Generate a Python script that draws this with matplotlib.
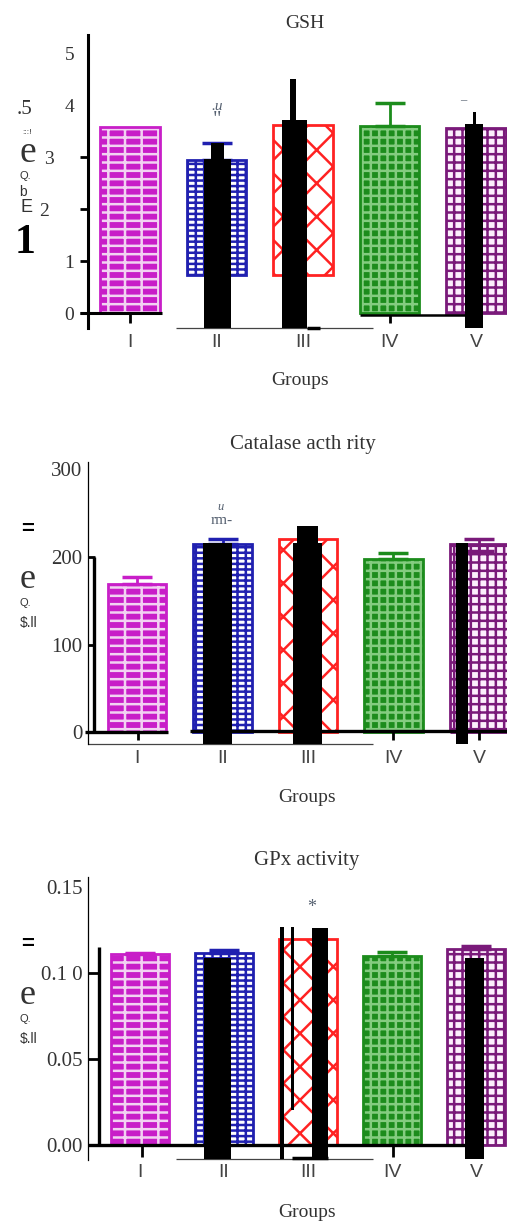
import numpy as np
import matplotlib
matplotlib.use("Agg")
import matplotlib.pyplot as plt

plt.rcParams["font.family"] = ["Liberation Serif", "DejaVu Serif"]
plt.rcParams["hatch.linewidth"] = 1.8

W, H = 507, 1225

groups = ["I", "II", "III", "IV", "V"]

# GSH
gsh_mean = [3.58, 2.94, 3.62, 3.60, 3.56]
gsh_base = [0.0, 0.73, 0.73, 0.0, 0.0]
gsh_err_hi = [0.0, 0.33, 0.0, 0.44, 0.0]
gsh_err_lo = [0.0, 0.0, 0.0, 0.0, 0.0]
gsh_blk_top = [2.96, 3.27, 3.71, 4.50, 3.63, 3.87]
gsh_blk_bot = [-0.29, 2.96, -0.29, 3.71, -0.29, 3.63]

# Catalase activity
cat_mean = [169, 215, 221, 198, 215]
cat_base = [0, 0, 0, 0, 0]
cat_err_hi = [8, 6, 0, 7, 6]
cat_err_lo = [0, 0, 0, 0, 8]
cat_blk_top = [216, 216, 235, 216]
cat_blk_bot = [-13.7, -13.7, -13.7, -13.7]

# GPx activity
gpx_mean = [0.111, 0.1116, 0.120, 0.110, 0.114]
gpx_base = [0, 0, 0, 0, 0]
gpx_err_hi = [0.0004, 0.0015, 0.0, 0.0023, 0.0015]
gpx_err_lo = [0, 0, 0, 0, 0]
gpx_blk_top = [0.1087, 0.1267, 0.1267, 0.126, 0.1087]
gpx_blk_bot = [-0.0081, -0.0081, 0.0203, -0.0081, -0.0081]

MAG = "#c81ec8"
BLU = "#2020b0"
RED = "#ff2222"
GRN = "#1c8c1c"
PUR = "#7a1a7a"
styles = [
    dict(face=MAG, hcol="#f2d2f2", hatch="--|", edge=MAG),
    dict(face="white", hcol=BLU, hatch="---||", edge=BLU),
    dict(face="white", hcol=RED, hatch="x", edge=RED),
    dict(face=GRN, hcol="#84cc80", hatch="++", edge=GRN),
    dict(face="#fdf0fd", hcol=PUR, hatch="++", edge=PUR),
]
INK = "#333333"
NOTE = "#556070"

fig = plt.figure(figsize=(W / 100, H / 100), dpi=100)


def panel(top, bottom, x0, unit, y0, ppu):
    left = 88
    ax = fig.add_axes([left / W, 1 - bottom / H, (W - left) / W, (bottom - top) / H])
    ax.set_xlim((left - x0) / unit, (W - x0) / unit)
    ax.set_ylim((y0 - bottom) / ppu, (y0 - top) / ppu)
    for s in ("top", "right", "bottom"):
        ax.spines[s].set_visible(False)
    ax.patch.set_alpha(0)
    return ax


def draw_bars(ax, means, bases, lo, hi):
    for i, st in enumerate(styles):
        h = means[i] - bases[i]
        ax.bar(i, h, bottom=bases[i], width=0.69, color=st["face"],
               edgecolor=st["hcol"], hatch=st["hatch"], linewidth=0, zorder=2)
        ax.bar(i, h, bottom=bases[i], width=0.69, fill=False,
               edgecolor=st["edge"], linewidth=2.0, zorder=3)
        if hi[i] > 0 or lo[i] > 0:
            ax.errorbar(i, means[i], yerr=[[lo[i]], [hi[i]]], fmt="none",
                        ecolor=st["edge"], elinewidth=2, capsize=11, capthick=2.5,
                        zorder=4)


def blocks(ax, xs, ws, tops, bots):
    for x, w, t, b in zip(xs, ws, tops, bots):
        ax.bar(x, t - b, bottom=b, width=w, color="black", linewidth=0,
               zorder=6, clip_on=False)


def xaxis_labels(ax, pad):
    ax.set_xticks(range(len(groups)), groups, family="Liberation Sans",
                  fontsize=14, color="#444444")
    ax.tick_params(axis="x", length=0, pad=pad)


def ftxt(x, y, s, **kw):
    fig.text(x / W, 1 - y / H, s, ha="center", va="center", **kw)


# ---------- GSH ----------
ax1 = panel(35, 328, 130, 86.5, 313, 52)
draw_bars(ax1, gsh_mean, gsh_base, gsh_err_lo, gsh_err_hi)
blocks(ax1, [1.012, 1.012, 1.902, 1.884, 3.977, 3.983],
       [0.312, 0.15, 0.289, 0.07, 0.208, 0.035], gsh_blk_top, gsh_blk_bot)
ax1.spines["left"].set_linewidth(2.2)
ax1.set_yticks(range(6), ["0", "1", "2     ", "3    ", "4", "5"])
ax1.tick_params(axis="y", direction="out", length=6, width=2, pad=4,
                labelsize=14, labelcolor=INK)
for t in ax1.yaxis.get_major_ticks()[4:]:
    t.tick1line.set_visible(False)
xaxis_labels(ax1, 4)
lk = dict(color="black", clip_on=False, zorder=5)
ax1.hlines(0, -0.578, 0.37, lw=2.2, **lk)
ax1.hlines(-0.29, 0.532, 2.81, lw=0.9, color="#444444", clip_on=False)
ax1.hlines(-0.04, 2.66, 3.9, lw=1.8, **lk)
ax1.hlines(-0.29, 2.046, 2.197, lw=2.5, **lk)
ax1.vlines(0.0, -0.19, 0, lw=2, **lk)
ax1.vlines(3.006, -0.19, -0.04, lw=2, **lk)
ax1.set_title("GSH", fontsize=14, color=INK, x=0.518, pad=5)
ax1.set_xlabel("Groups", fontsize=14, color=INK)
ax1.xaxis.label.set_verticalalignment("center")
ax1.xaxis.set_label_coords(0.506, -0.1775)
ax1.text(1.006, 3.97, ".u", fontsize=11, style="italic", color=NOTE, ha="center", va="center")
ax1.text(1.006, 3.70, '"', fontsize=15, color=NOTE, ha="center", va="center")
ax1.text(3.85, 4.1, "–", fontsize=9, color=NOTE, ha="center", va="center")

ftxt(24, 110, ".5", fontsize=15, color=INK)
ftxt(27, 133, ":::!", fontsize=6, color=INK, family="Liberation Sans")
ftxt(28, 153, "e", fontsize=27, color=INK)
ftxt(25, 176, "Q.", fontsize=8, color=INK, family="Liberation Sans")
ftxt(23, 192, "b", fontsize=10, color=INK, family="Liberation Sans")
ftxt(27, 207, "E", fontsize=13, color=INK, family="Liberation Sans")
ftxt(25, 243, "1", fontsize=30, color="black", weight="bold")

# ---------- Catalase ----------
ax2 = panel(462, 744, 137, 85.5, 732, 0.875)
draw_bars(ax2, cat_mean, cat_base, cat_err_lo, cat_err_hi)
blocks(ax2, [0.942, 1.994, 1.994, 3.80], [0.339, 0.339, 0.246, 0.14],
       cat_blk_top, cat_blk_bot)
ax2.spines["left"].set_linewidth(0.9)
ax2.set_yticks([0, 100, 200, 300])
ax2.tick_params(axis="y", direction="in", length=5, width=2, pad=4,
                labelsize=15, labelcolor=INK)
ax2.yaxis.get_major_ticks()[3].tick1line.set_visible(False)
xaxis_labels(ax2, 4)
ax2.vlines(-0.503, -1, 200, lw=2.4, **lk)
ax2.hlines(0, -0.608, 0.363, lw=2.4, **lk)
ax2.hlines(1, 0.62, 4.33, lw=2.4, **lk)
ax2.hlines(-13.7, -0.573, 2.76, lw=0.9, color="#444444", clip_on=False)
ax2.vlines([0.012, 2.99, 4.0], -9.1, 0, lw=2, **lk)
ax2.set_title("Catalase acth rity", fontsize=15, color=INK, x=0.513, pad=9)
ax2.set_xlabel("Groups", fontsize=14, color=INK)
ax2.xaxis.label.set_verticalalignment("center")
ax2.xaxis.set_label_coords(0.523, -0.188)
ax2.text(0.971, 257, "u", fontsize=9, style="italic", color=NOTE, ha="center", va="center")
ax2.text(0.994, 242, "rm-", fontsize=11, color=NOTE, ha="center", va="center")

ftxt(28, 529, "=", fontsize=16, color="black", weight="bold", family="Liberation Sans")
ftxt(28, 579, "e", fontsize=26, color=INK)
ftxt(25, 603, "Q.", fontsize=8, color=INK, family="Liberation Sans")
ftxt(29, 623, "$.ll", fontsize=10, color=INK, family="Liberation Sans")

# ---------- GPx ----------
ax3 = panel(877, 1160, 140, 84, 1145, 1720)
draw_bars(ax3, gpx_mean, gpx_base, gpx_err_lo, gpx_err_hi)
blocks(ax3, [0.923, 1.690, 1.821, 2.143, 3.98], [0.321, 0.048, 0.036, 0.19, 0.226],
       gpx_blk_top, gpx_blk_bot)
ax3.spines["left"].set_linewidth(0.9)
ax3.set_yticks([0, 0.05, 0.10, 0.15], ["0.00", "0.05", "0.1 0", "0.15"])
ax3.tick_params(axis="y", direction="in", length=8, width=2, pad=4,
                labelsize=15, labelcolor=INK)
ax3.yaxis.get_major_ticks()[3].tick1line.set_visible(False)
xaxis_labels(ax3, 3)
ax3.vlines(-0.488, 0, 0.1151, lw=2.4, **lk)
ax3.hlines(0, -0.619, 3.89, lw=2.4, **lk)
ax3.hlines(-0.00814, 0.429, 2.774, lw=0.9, color="#444444", clip_on=False)
ax3.hlines(-0.0075, 1.81, 2.238, lw=2.5, **lk)
ax3.vlines([0.024, 3.01], -0.007, 0, lw=2, **lk)
ax3.set_title("GPx activity", fontsize=15, color=INK, x=0.523, pad=9)
ax3.set_xlabel("Groups", fontsize=14, color=INK)
ax3.xaxis.label.set_verticalalignment("center")
ax3.xaxis.set_label_coords(0.523, -0.184)
ax3.text(2.048, 0.1378, "*", fontsize=13, color=NOTE, ha="center", va="center")

ftxt(28, 945, "=", fontsize=16, color="black", weight="bold", family="Liberation Sans")
ftxt(28, 995, "e", fontsize=26, color=INK)
ftxt(25, 1019, "Q.", fontsize=8, color=INK, family="Liberation Sans")
ftxt(29, 1039, "$.ll", fontsize=10, color=INK, family="Liberation Sans")

fig.savefig("out.png", dpi=100)
